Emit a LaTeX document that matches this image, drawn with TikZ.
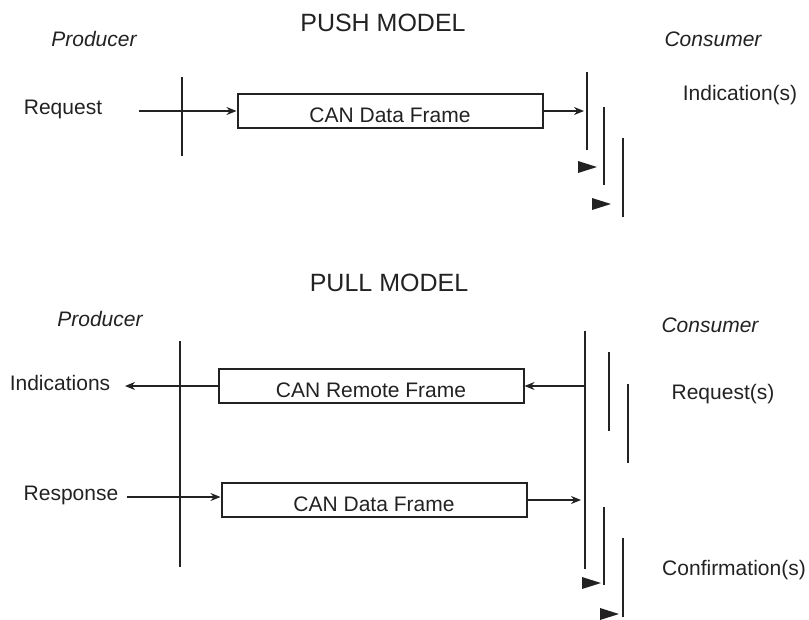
\documentclass[tikz,border=0pt]{standalone}
\usepackage{fontspec}
\setmainfont{Liberation Sans}
\usetikzlibrary{arrows.meta}
\definecolor{ink}{HTML}{222222}
\tikzset{
    frame/.style={
        draw=ink,
        line width=2pt,
        minimum width=305pt,
        minimum height=34pt,
        inner sep=0pt,
        text height=22pt,
        text depth=0pt,
        text=ink,
        font=\fontsize{21}{25}\selectfont
    },
    lifeline/.style={draw=ink, line width=2pt},
    flow/.style={-{Stealth[length=10pt,width=8pt]}, draw=ink, line width=1.2pt},
    lbl/.style={inner sep=0pt, text=ink, font=\fontsize{21}{25}\selectfont},
    role/.style={inner sep=0pt, text=ink, font=\fontsize{21}{25}\selectfont\itshape},
    heading/.style={inner sep=0pt, text=ink, font=\fontsize{25}{30}\selectfont}
}
\newcommand{\ackmark}[1]{\fill[ink] (#1) -- ++(-19,-6) -- ++(0,12) -- cycle;}

\begin{document}
\begin{tikzpicture}[x=1pt, y=-1pt]
        \useasboundingbox (0,0) rectangle (809,619);

        % push model
        \node[heading] (pushtitle) at (383,23) {PUSH MODEL};
        \node[role] (pushprod) at (94,39) {Producer};
        \node[role] (pushcons) at (713,39) {Consumer};
        \node[lbl] (pushreq) at (63,109) {Request};
        \node[lbl] (pushind) at (740,95) {Indication(s)};
        \node[frame] (pushframe) at (390,111) {CAN Data Frame};

        \coordinate (pprodtop) at (182,77);
        \coordinate (pprodbot) at (182,156);
        \coordinate (pconsAtop) at (587,72);
        \coordinate (pconsAbot) at (587,150);
        \coordinate (pconsBtop) at (604,107);
        \coordinate (pconsBbot) at (604,185);
        \coordinate (pconsCtop) at (623,138);
        \coordinate (pconsCbot) at (623,217);
        \coordinate (preqstart) at (139,111);
        \coordinate (pindend) at (584,111);
        \coordinate (pindA) at (597,167);
        \coordinate (pindB) at (611,204);

        \draw[lifeline] (pprodtop) -- (pprodbot);
        \draw[lifeline] (pconsAtop) -- (pconsAbot);
        \draw[lifeline] (pconsBtop) -- (pconsBbot);
        \draw[lifeline] (pconsCtop) -- (pconsCbot);
        \draw[flow] (preqstart) -- (pushframe.west);
        \draw[flow] (pushframe.east) -- (pindend);
        \ackmark{pindA}
        \ackmark{pindB}

        % pull model
        \node[heading] (pulltitle) at (389,283) {PULL MODEL};
        \node[role] (pullprod) at (100,319) {Producer};
        \node[role] (pullcons) at (710,325) {Consumer};
        \node[lbl] (pullind) at (60,383) {Indications};
        \node[lbl] (pullreq) at (723,394) {Request(s)};
        \node[lbl] (pullresp) at (71,495) {Response};
        \node[lbl] (pullconf) at (734,570) {Confirmation(s)};
        \node[frame] (remoteframe) at (371,386) {CAN Remote Frame};
        \node[frame] (pullframe) at (374,500) {CAN Data Frame};

        \coordinate (qprodtop) at (180,341);
        \coordinate (qprodbot) at (180,567);
        \coordinate (qconsAtop) at (585,331);
        \coordinate (qconsAbot) at (585,569);
        \coordinate (qconsBtop) at (609,352);
        \coordinate (qconsBbot) at (609,431);
        \coordinate (qconsCtop) at (628,384);
        \coordinate (qconsCbot) at (628,463);
        \coordinate (qconsDtop) at (604,507);
        \coordinate (qconsDbot) at (604,585);
        \coordinate (qconsEtop) at (623,538);
        \coordinate (qconsEbot) at (623,617);
        \coordinate (qremstart) at (585,386);
        \coordinate (qindend) at (125,386);
        \coordinate (qrespstart) at (127,497);
        \coordinate (qdataend) at (581,500);
        \coordinate (qconfA) at (601,583);
        \coordinate (qconfB) at (619,614);

        \draw[lifeline] (qprodtop) -- (qprodbot);
        \draw[lifeline] (qconsAtop) -- (qconsAbot);
        \draw[lifeline] (qconsBtop) -- (qconsBbot);
        \draw[lifeline] (qconsCtop) -- (qconsCbot);
        \draw[lifeline] (qconsDtop) -- (qconsDbot);
        \draw[lifeline] (qconsEtop) -- (qconsEbot);
        \draw[flow] (qremstart) -- (remoteframe.east);
        \draw[flow] (remoteframe.west) -- (qindend);
        \draw[flow] (qrespstart) -- (pullframe.west |- qrespstart);
        \draw[flow] (pullframe.east) -- (qdataend);
        \ackmark{qconfA}
        \ackmark{qconfB}
    \end{tikzpicture}
\end{document}
